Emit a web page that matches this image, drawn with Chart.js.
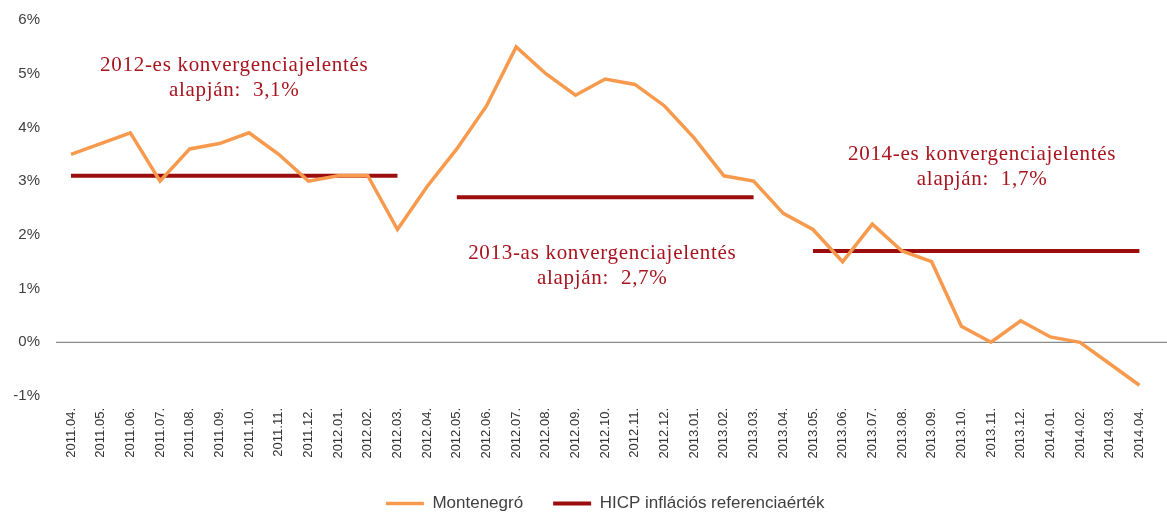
<!DOCTYPE html>
<html>
<head>
<meta charset="utf-8">
<script src="https://cdn.jsdelivr.net/npm/chart.js@4.4.0/dist/chart.umd.min.js"></script>
<style>
  html, body { margin: 0; padding: 0; background: #fff; overflow: hidden; }
  #wrap { width: 1167px; height: 515px; }
</style>
</head>
<body>
<div id="wrap"><canvas id="myChart"></canvas></div>
<script>
const honapok = [
  "2011.04.", "2011.05.", "2011.06.", "2011.07.", "2011.08.", "2011.09.", "2011.10.", "2011.11.", "2011.12.",
  "2012.01.", "2012.02.", "2012.03.", "2012.04.", "2012.05.", "2012.06.", "2012.07.", "2012.08.", "2012.09.",
  "2012.10.", "2012.11.", "2012.12.", "2013.01.", "2013.02.", "2013.03.", "2013.04.", "2013.05.", "2013.06.",
  "2013.07.", "2013.08.", "2013.09.", "2013.10.", "2013.11.", "2013.12.", "2014.01.", "2014.02.", "2014.03.",
  "2014.04."
];

const montenegro = [
  3.5, 3.7, 3.9, 3.0, 3.6, 3.7, 3.9, 3.5, 3.0,
  3.1, 3.1, 2.1, 2.9, 3.6, 4.4, 5.5, 5.0, 4.6,
  4.9, 4.8, 4.4, 3.8, 3.1, 3.0, 2.4, 2.1, 1.5,
  2.2, 1.7, 1.5, 0.3, 0.0, 0.4, 0.1, 0.0, -0.4,
  -0.8
];

const referencia = [
  3.1, 3.1, 3.1, 3.1, 3.1, 3.1, 3.1, 3.1, 3.1,
  3.1, 3.1, 3.1, null, 2.7, 2.7, 2.7, 2.7, 2.7,
  2.7, 2.7, 2.7, 2.7, 2.7, 2.7, null, 1.7, 1.7,
  1.7, 1.7, 1.7, 1.7, 1.7, 1.7, 1.7, 1.7, 1.7,
  1.7
];

const yTicks = [-1, 0, 1, 2, 3, 4, 5, 6];

const feliratok = [
  { sorok: ["2012-es konvergenciajelentés", "alapján:  3,1%"], x: 5.5, y: 5.15 },
  { sorok: ["2013-as konvergenciajelentés", "alapján:  2,7%"], x: 17.9, y: 1.66 },
  { sorok: ["2014-es konvergenciajelentés", "alapján:  1,7%"], x: 30.7, y: 3.5 }
];

const chart = document.querySelector("#myChart");

// nullvonal + szovegdobozok
const rajzolo = {
  id: "rajzolo",
  beforeDatasetsDraw(c) {
    const ctx = c.ctx;
    const y0 = c.scales.y.getPixelForValue(0);
    ctx.save();
    ctx.strokeStyle = "#8a8a8a";
    ctx.lineWidth = 1.3;
    ctx.beginPath();
    ctx.moveTo(c.chartArea.left - 15, y0);
    ctx.lineTo(c.width, y0);
    ctx.stroke();
    ctx.restore();
  },
  afterDatasetsDraw(c) {
    const ctx = c.ctx;
    ctx.save();
    ctx.font = "21px 'Liberation Serif', 'Times New Roman', serif";
    ctx.letterSpacing = "0.7px";
    ctx.fillStyle = "#a8141e";
    ctx.textAlign = "center";
    ctx.textBaseline = "middle";
    feliratok.forEach((f) => {
      const x = c.scales.x.getPixelForValue(f.x);
      const y = c.scales.y.getPixelForValue(f.y);
      f.sorok.forEach((sor, k) => ctx.fillText(sor, x, y + k * 25));
    });
    ctx.restore();
  }
};

const datasets = [
  {
    label: "Montenegró",
    data: montenegro,
    borderColor: "#f79a4e",
    backgroundColor: "#f79a4e",
    borderWidth: 3.5,
    pointRadius: 0,
    tension: 0
  },
  {
    label: "HICP inflációs referenciaérték",
    data: referencia,
    borderColor: "#9c0d0d",
    backgroundColor: "#9c0d0d",
    borderWidth: 4,
    pointRadius: 0,
    spanGaps: false
  }
];

const config = {
  type: "line",
  data: { labels: honapok, datasets },
  plugins: [rajzolo],
  options: {
    responsive: true,
    maintainAspectRatio: false,
    animation: false,
    layout: { padding: { top: 20, right: 10, left: 0, bottom: -7 } },
    plugins: {
      tooltip: { enabled: false },
      legend: {
        position: "bottom",
        fullSize: false,
        labels: {
          usePointStyle: true,
          pointStyle: "line",
          pointStyleWidth: 38,
          padding: 30,
          color: "#404040",
          font: { family: "'Liberation Sans', Arial, sans-serif", size: 17 }
        }
      }
    },
    scales: {
      x: {
        offset: false,
        grid: { display: false, drawTicks: false },
        border: { display: false },
        ticks: {
          autoSkip: false,
          minRotation: 90,
          maxRotation: 90,
          padding: 12,
          color: "#333333",
          font: { family: "'Liberation Sans', Arial, sans-serif", size: 13 }
        },
        afterFit: (scale) => { scale.height = 69; }
      },
      y: {
        min: -1,
        max: 6,
        afterBuildTicks: (scale) => { scale.ticks = yTicks.map((v) => ({ value: v })); },
        grid: { display: true, color: "rgba(0,0,0,0)", drawTicks: true, tickLength: 28 },
        border: { display: false },
        ticks: {
          padding: 3,
          color: "#404040",
          font: { family: "'Liberation Sans', Arial, sans-serif", size: 15 },
          callback: (v) => v + "%"
        },
        afterFit: (scale) => { scale.width = 71; }
      }
    }
  }
};

new Chart(chart, config);
</script>
</body>
</html>
